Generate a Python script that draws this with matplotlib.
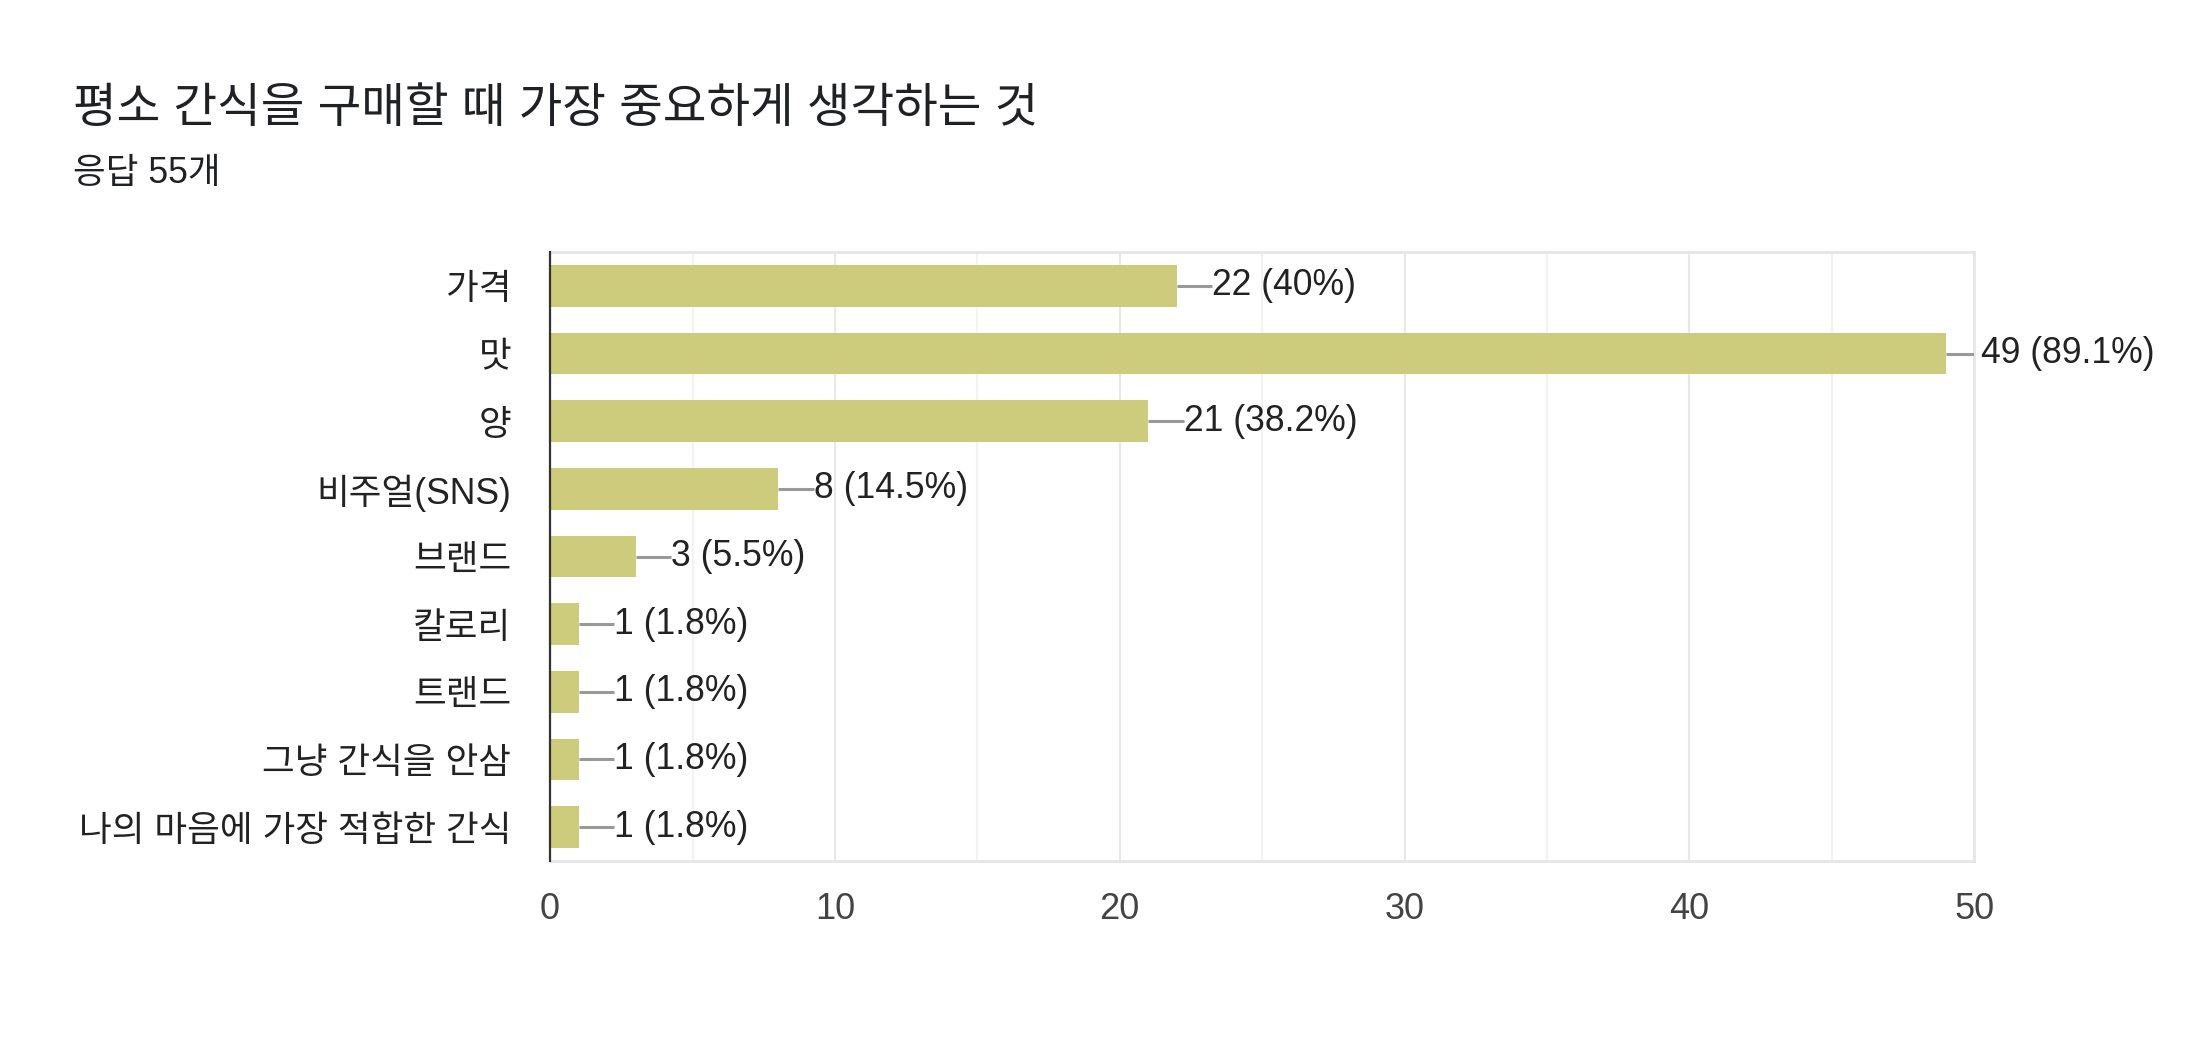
import matplotlib.pyplot as plt
from matplotlib.ticker import MultipleLocator

plt.rcParams['font.family'] = ['Liberation Sans', 'Noto Sans CJK KR', 'DejaVu Sans']

# data
categories = ['가격', '맛', '양', '비주얼(SNS)', '브랜드', '칼로리', '트랜드',
              '그냥 간식을 안삼', '나의 마음에 가장 적합한 간식']
counts = [22, 49, 21, 8, 3, 1, 1, 1, 1]
percents = ['40%', '89.1%', '38.2%', '14.5%', '5.5%', '1.8%', '1.8%', '1.8%', '1.8%']
title = '평소 간식을 구매할 때 가장 중요하게 생각하는 것'
subtitle = '응답 55개'

bar_color = '#cdcc7d'

fig = plt.figure(figsize=(10.98, 5.22), dpi=200)
ax = fig.add_axes([0.2505, 0.1753, 0.6485, 0.5833])

y = list(range(len(categories)))
ax.barh(y, counts, height=0.62, color=bar_color, zorder=2)

# leader lines and value labels
for yi, c, p in zip(y, counts, percents):
    ax.plot([c, c + 1.25], [yi, yi], color='#999999', lw=1.1, zorder=3,
            solid_capstyle='butt')
    ax.text(c + 1.25, yi, f'{c} ({p})', va='center', ha='left',
            fontsize=12.8, color='#222222')

ax.set_xlim(0, 50)
ax.set_ylim(len(categories) - 0.5, -0.5)
ax.set_yticks(y)
ax.set_yticklabels(categories, fontsize=12.8, color='#222222')
ax.xaxis.set_major_locator(MultipleLocator(10))
ax.xaxis.set_minor_locator(MultipleLocator(5))
ax.tick_params(axis='x', which='both', length=0, labelsize=13,
               labelcolor='#444444', pad=11)
ax.tick_params(axis='y', length=0, pad=14)

ax.grid(axis='x', which='major', color='#e8e8e8', lw=0.8, zorder=0)
ax.grid(axis='x', which='minor', color='#f3f3f3', lw=0.8, zorder=0)
ax.grid(axis='y', visible=False)

for side in ['top', 'right', 'bottom']:
    ax.spines[side].set_color('#e6e6e6')
    ax.spines[side].set_linewidth(1.0)
ax.spines['left'].set_color('#333333')
ax.spines['left'].set_linewidth(0.8)
ax.spines['left'].set_zorder(4)

fig.text(0.0333, 0.895, title, fontsize=17.1, color='#202124', va='center', ha='left')
fig.text(0.0333, 0.834, subtitle, fontsize=12.8, color='#202124', va='center', ha='left')

fig.savefig('out.png', dpi=200, facecolor='white')
